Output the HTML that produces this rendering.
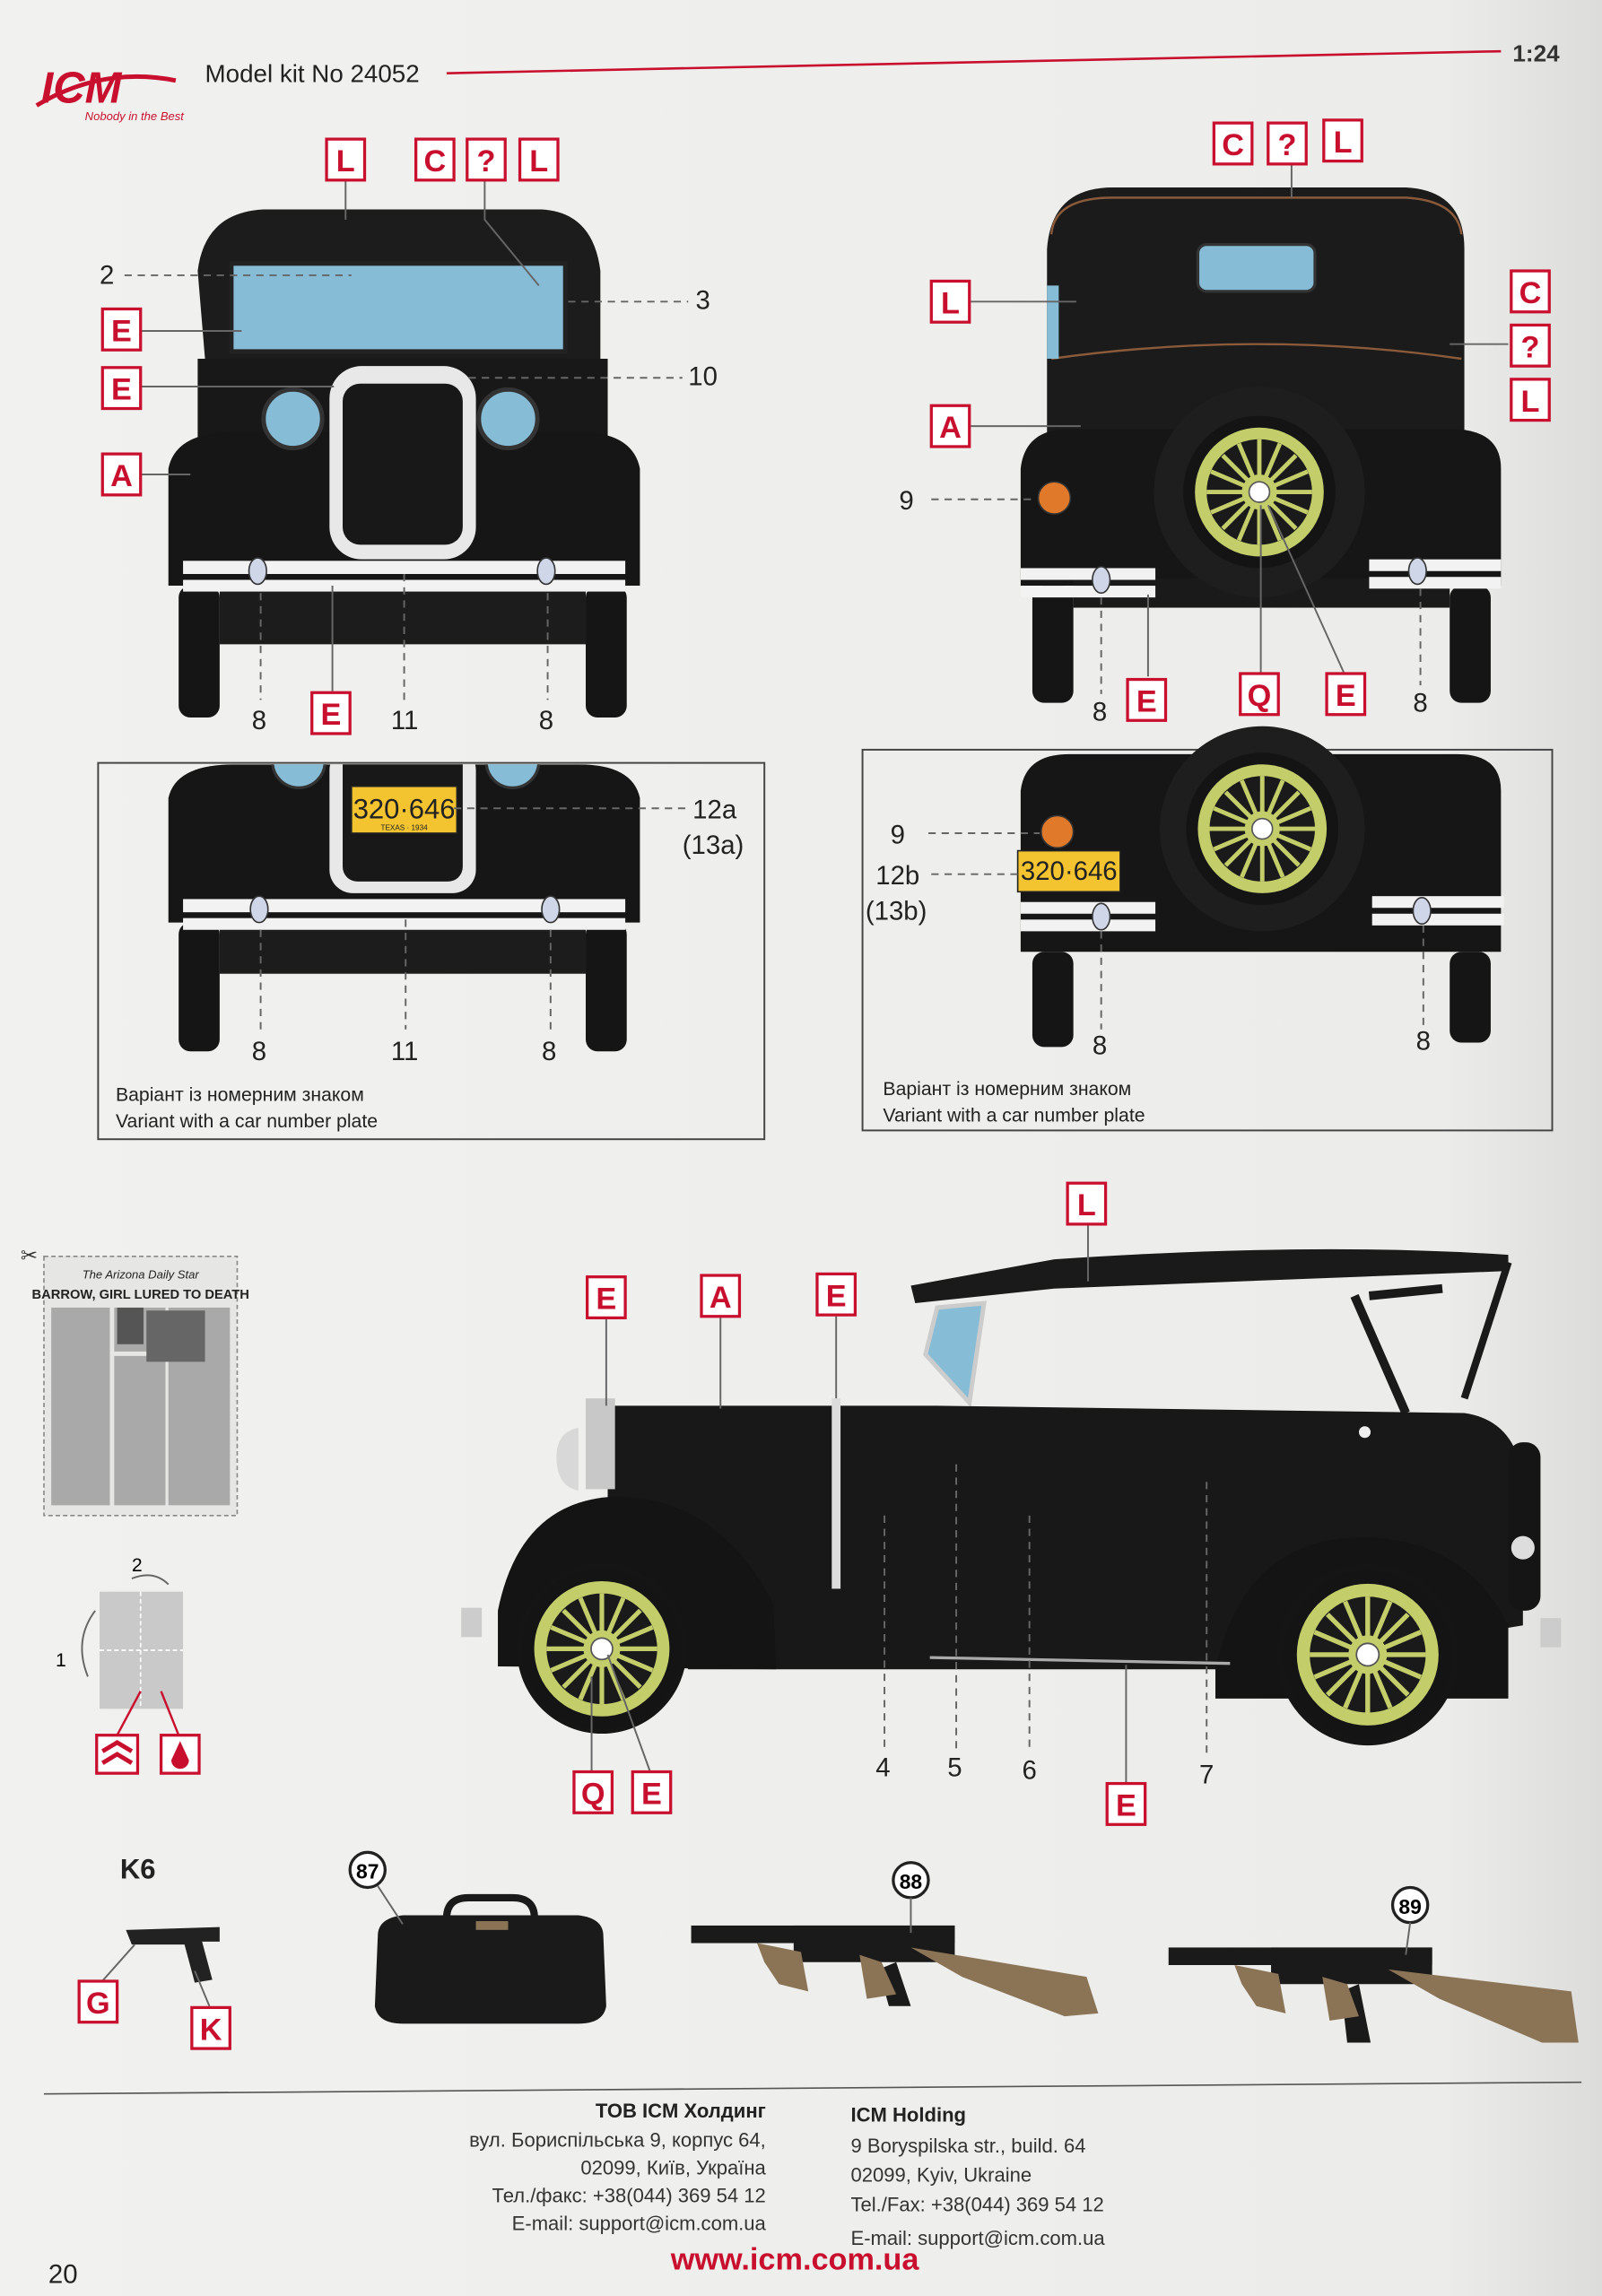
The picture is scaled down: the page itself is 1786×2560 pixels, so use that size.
<!DOCTYPE html>
<html><head><meta charset="utf-8"><style>
html,body{margin:0;padding:0;background:#efefed}
svg{display:block}
text{font-family:"Liberation Sans","DejaVu Sans",sans-serif}
.lb rect{fill:#fff;stroke:#c8102e;stroke-width:2}
.lb text{fill:#c8102e;font-weight:bold;font-size:21px;text-anchor:middle}
.n{font-size:18px;fill:#222}
.d{stroke:#666;stroke-width:1.2;stroke-dasharray:5 4;fill:none}
.s{stroke:#666;stroke-width:1.2;fill:none}
.red{stroke:#c8102e;stroke-width:1.5;fill:none}
</style></head><body>
<svg width="1786" height="2560" viewBox="0 0 1094 1568" preserveAspectRatio="none" xmlns="http://www.w3.org/2000/svg">
<defs>
<linearGradient id="bg" x1="0" x2="1"><stop offset="0" stop-color="#f1f1ef"/><stop offset="0.9" stop-color="#ececea"/><stop offset="1" stop-color="#dcdcda"/></linearGradient>
<clipPath id="b1"><rect x="67" y="522" width="455" height="256"/></clipPath>
<g id="wheel"><circle r="52" fill="#141414"/><circle r="44" fill="#c3cd6a"/><circle r="36" fill="#1a1a1a"/><g stroke="#c3cd6a" stroke-width="3"><line x1="-36" y1="0" x2="36" y2="0"/><line x1="0" y1="-36" x2="0" y2="36"/><line x1="-25" y1="-25" x2="25" y2="25"/><line x1="-25" y1="25" x2="25" y2="-25"/><line x1="-33" y1="-14" x2="33" y2="14"/><line x1="-14" y1="-33" x2="14" y2="33"/><line x1="-33" y1="14" x2="33" y2="-14"/><line x1="-14" y1="33" x2="14" y2="-33"/></g><circle r="12" fill="#c3cd6a"/><circle r="7" fill="#fff" stroke="#555"/></g>
</defs>
<rect width="1094" height="1568" fill="url(#bg)"/>

<!-- header -->
<text x="28" y="70" font-size="30" font-weight="bold" fill="#c8102e" font-style="italic">ICM</text>
<path d="M25 72 Q70 45 120 55" stroke="#c8102e" stroke-width="3" fill="none"/>
<text x="58" y="82" font-size="8" fill="#c8102e" font-style="italic">Nobody in the Best</text>
<text x="140" y="56" font-size="17" fill="#222">Model kit No 24052</text>
<line x1="305" y1="50" x2="1025" y2="35" stroke="#c8102e" stroke-width="1.6"/>
<text x="1033" y="42" font-size="16" font-weight="bold" fill="#333">1:24</text>

<!-- FRONT VIEW -->
<g>
<path d="M135 185 Q140 145 180 143 L370 143 Q405 145 410 185 L410 245 L140 245 Z" fill="#1c1c1c"/>
<rect x="158" y="180" width="228" height="60" fill="#86bcd6" stroke="#222" stroke-width="3"/>
<rect x="135" y="245" width="280" height="70" fill="#181818"/>
<path d="M115 320 Q120 295 160 295 L395 295 Q432 295 437 320 L437 400 L115 400 Z" fill="#161616"/>
<rect x="122" y="400" width="28" height="90" rx="8" fill="#151515"/>
<rect x="400" y="400" width="28" height="90" rx="8" fill="#151515"/>
<rect x="150" y="400" width="250" height="40" fill="#1c1c1c"/>
<rect x="225" y="250" width="100" height="132" rx="22" fill="#e8e8e8"/>
<rect x="234" y="262" width="82" height="110" rx="12" fill="#181818"/>
<circle cx="200" cy="286" r="20" fill="#86bcd6" stroke="#333" stroke-width="3"/>
<circle cx="347" cy="286" r="20" fill="#86bcd6" stroke="#333" stroke-width="3"/>
<rect x="125" y="383" width="302" height="9" fill="#f2f2f2"/>
<rect x="125" y="396" width="302" height="8" fill="#f2f2f2"/>
<ellipse cx="176" cy="390" rx="6" ry="9" fill="#cfd6e8" stroke="#333"/>
<ellipse cx="373" cy="390" rx="6" ry="9" fill="#cfd6e8" stroke="#333"/>
</g>
<path class="d" d="M85 188 L240 188 M388 206 L470 206 M320 258 L466 258 M178 405 L178 478 M276 392 L276 478 M374 405 L374 478"/>
<path class="s" d="M236 123 L236 150 M331 123 L331 150 L368 195 M96 226 L165 226 M96 264 L228 264 M96 324 L130 324 M227 472 L227 400"/>
<text class="n" x="68" y="194">2</text><text class="n" x="475" y="211">3</text><text class="n" x="470" y="263">10</text>
<text class="n" x="172" y="498">8</text><text class="n" x="267" y="498">11</text><text class="n" x="368" y="498">8</text>

<!-- REAR VIEW -->
<g>
<path d="M715 170 Q718 128 760 128 L960 128 Q1000 130 1000 170 L1000 300 L715 300 Z" fill="#1b1b1b"/>
<path d="M718 160 Q720 135 760 135 L960 135 Q995 137 998 160" stroke="#8a5a3a" fill="none" stroke-width="1.5"/>
<path d="M718 245 Q860 225 998 245" stroke="#8a5a3a" fill="none" stroke-width="1.5"/>
<rect x="818" y="167" width="80" height="32" rx="6" fill="#86bcd6" stroke="#333" stroke-width="2"/>
<rect x="715" y="195" width="8" height="50" fill="#86bcd6"/>
<path d="M697 320 Q700 293 730 293 L995 293 Q1025 295 1025 320 L1025 400 L697 400 Z" fill="#161616"/>
<rect x="705" y="400" width="28" height="80" rx="8" fill="#151515"/>
<rect x="990" y="400" width="28" height="80" rx="8" fill="#151515"/>
<rect x="733" y="395" width="257" height="20" fill="#1a1a1a"/>
<circle cx="860" cy="336" r="72" fill="#1e1e1e"/>
<use href="#wheel" transform="translate(860,336)"/>
<circle cx="720" cy="340" r="11" fill="#e07a2a" stroke="#333"/>
<rect x="697" y="388" width="92" height="8" fill="#f2f2f2"/><rect x="697" y="400" width="92" height="8" fill="#f2f2f2"/>
<rect x="935" y="382" width="90" height="8" fill="#f2f2f2"/><rect x="935" y="394" width="90" height="8" fill="#f2f2f2"/>
<ellipse cx="752" cy="396" rx="6" ry="9" fill="#cfd6e8" stroke="#333"/>
<ellipse cx="968" cy="390" rx="6" ry="9" fill="#cfd6e8" stroke="#333"/>
</g>
<path class="d" d="M636 341 L708 341 M752 408 L752 474 M970 402 L970 468"/>
<path class="s" d="M882 111 L882 135 M663 206 L735 206 M663 291 L738 291 M1030 235 L990 235 M784 462 L784 406 M861 460 L861 345 M918 460 L866 345"/>
<text class="n" x="614" y="348">9</text><text class="n" x="746" y="492">8</text><text class="n" x="965" y="486">8</text>

<!-- variant box 1 -->
<rect x="67" y="521" width="455" height="257" fill="none" stroke="#444" stroke-width="1.2"/>
<g clip-path="url(#b1)">
<path d="M115 545 Q120 522 160 522 L395 522 Q432 522 437 545 L437 630 L115 630 Z" fill="#161616"/>
<circle cx="204" cy="520" r="18" fill="#86bcd6" stroke="#333" stroke-width="2"/><circle cx="350" cy="520" r="18" fill="#86bcd6" stroke="#333" stroke-width="2"/>
<rect x="225" y="510" width="100" height="100" rx="16" fill="#e8e8e8"/>
<rect x="234" y="510" width="82" height="92" rx="10" fill="#181818"/>
<rect x="240" y="537" width="72" height="32" fill="#f4c430" stroke="#222"/>
<text x="276" y="559" font-size="19" text-anchor="middle" fill="#222">320·646</text>
<text x="276" y="567" font-size="5" text-anchor="middle" fill="#222">TEXAS · 1934</text>
<rect x="122" y="630" width="28" height="88" rx="8" fill="#151515"/><rect x="400" y="630" width="28" height="88" rx="8" fill="#151515"/>
<rect x="150" y="630" width="250" height="35" fill="#1c1c1c"/>
<rect x="125" y="614" width="302" height="9" fill="#f2f2f2"/><rect x="125" y="627" width="302" height="8" fill="#f2f2f2"/>
<ellipse cx="177" cy="621" rx="6" ry="9" fill="#cfd6e8" stroke="#333"/><ellipse cx="376" cy="621" rx="6" ry="9" fill="#cfd6e8" stroke="#333"/>
</g>
<path class="d" d="M310 552 L468 552 M178 635 L178 703 M277 628 L277 703 M376 635 L376 703"/>
<text class="n" x="473" y="559">12a</text><text class="n" x="466" y="583">(13a)</text>
<text class="n" x="172" y="724">8</text><text class="n" x="267" y="724">11</text><text class="n" x="370" y="724">8</text>
<text x="79" y="752" font-size="13" fill="#222">Варіант із номерним знаком</text>
<text x="79" y="770" font-size="13" fill="#222">Variant with a car number plate</text>

<!-- variant box 2 -->
<rect x="589" y="512" width="471" height="260" fill="none" stroke="#444" stroke-width="1.2"/>
<g>
<path d="M697 540 Q700 515 730 515 L995 515 Q1025 515 1025 540 L1025 650 L697 650 Z" fill="#161616"/>
<circle cx="862" cy="566" r="70" fill="#1e1e1e"/>
<use href="#wheel" transform="translate(862,566)"/>
<circle cx="722" cy="568" r="11" fill="#e07a2a" stroke="#333"/>
<rect x="695" y="581" width="70" height="28" fill="#f4c430" stroke="#222"/>
<text x="730" y="601" font-size="18" text-anchor="middle" fill="#222">320·646</text>
<rect x="705" y="650" width="28" height="65" rx="8" fill="#151515"/><rect x="990" y="650" width="28" height="62" rx="8" fill="#151515"/>
<rect x="697" y="616" width="92" height="8" fill="#f2f2f2"/><rect x="697" y="628" width="92" height="8" fill="#f2f2f2"/>
<rect x="937" y="612" width="90" height="8" fill="#f2f2f2"/><rect x="937" y="624" width="90" height="8" fill="#f2f2f2"/>
<ellipse cx="752" cy="626" rx="6" ry="9" fill="#cfd6e8" stroke="#333"/><ellipse cx="971" cy="622" rx="6" ry="9" fill="#cfd6e8" stroke="#333"/>
</g>
<path class="d" d="M634 569 L710 569 M636 597 L695 597 M752 636 L752 703 M972 632 L972 700"/>
<text class="n" x="608" y="576">9</text><text class="n" x="598" y="604">12b</text><text class="n" x="591" y="628">(13b)</text>
<text class="n" x="746" y="720">8</text><text class="n" x="967" y="717">8</text>
<text x="603" y="748" font-size="13" fill="#222">Варіант із номерним знаком</text>
<text x="603" y="766" font-size="13" fill="#222">Variant with a car number plate</text>

<!-- SIDE VIEW -->
<g>
<path d="M622 878 L625 890 L720 880 L1030 868 L1030 857 Q900 848 720 860 Z" fill="#1a1a1a"/>
<path d="M925 885 L960 965 M935 885 L985 880" stroke="#1a1a1a" stroke-width="6"/>
<path d="M1030 862 L1000 955" stroke="#1a1a1a" stroke-width="5"/>
<path d="M632 925 L640 893 L672 890 L662 958 Z" fill="#86bcd6" stroke="#ccc" stroke-width="3"/>
<path d="M415 960 L640 960 L1000 965 Q1035 970 1040 1010 L1040 1110 L860 1140 L470 1140 L415 1050 Z" fill="#181818"/>
<path d="M340 1100 Q355 1025 420 1022 Q490 1022 528 1095 L530 1140 L340 1138 Z" fill="#141414"/>
<path d="M830 1140 Q850 1050 930 1050 Q1000 1050 1030 1110 L1030 1160 L830 1160 Z" fill="#141414"/>
<rect x="1030" y="985" width="22" height="115" rx="10" fill="#151515"/>
<path d="M395 975 Q380 978 380 995 Q380 1015 395 1018 Z" fill="#d8d8d8"/>
<rect x="400" y="955" width="20" height="62" fill="#c8c8c8"/>
<rect x="568" y="955" width="6" height="130" fill="#dcdcdc"/>
<line x1="635" y1="1132" x2="840" y2="1136" stroke="#aaa" stroke-width="2"/>
<circle cx="411" cy="1126" r="58" fill="#151515"/>
<use href="#wheel" transform="translate(411,1126) scale(1.05)"/>
<circle cx="934" cy="1130" r="62" fill="#151515"/>
<use href="#wheel" transform="translate(934,1130) scale(1.1)"/>
<rect x="315" y="1098" width="14" height="20" fill="#ccc"/>
<rect x="1052" y="1105" width="14" height="20" fill="#ccc"/>
<circle cx="932" cy="978" r="4" fill="#eee"/>
<circle cx="1040" cy="1057" r="8" fill="#ddd"/>
</g>
<path class="d" d="M604 1035 L604 1195 M653 1000 L653 1195 M703 1035 L703 1195 M824 1012 L824 1200"/>
<path class="s" d="M743 836 L743 875 M414 900 L414 960 M492 900 L492 962 M571 899 L571 955 M404 1210 L404 1145 M444 1210 L415 1130 M769 1218 L769 1137"/>
<text class="n" x="598" y="1213">4</text><text class="n" x="647" y="1213">5</text><text class="n" x="698" y="1215">6</text><text class="n" x="819" y="1218">7</text>

<!-- newspaper -->
<text x="14" y="862" font-size="14" fill="#333">✂</text>
<rect x="30" y="858" width="132" height="177" fill="#e6e6e4" stroke="#888" stroke-dasharray="3 2"/>
<text x="96" y="873" font-size="8" text-anchor="middle" fill="#222" font-style="italic">The Arizona Daily Star</text>
<text x="96" y="887" font-size="9" text-anchor="middle" font-weight="bold" fill="#222">BARROW, GIRL LURED TO DEATH</text>
<g fill="#a9a9a9"><rect x="35" y="893" width="40" height="135"/><rect x="78" y="893" width="35" height="30"/><rect x="115" y="893" width="42" height="135"/><rect x="78" y="926" width="35" height="102"/></g>
<rect x="80" y="893" width="18" height="25" fill="#555"/><rect x="100" y="895" width="40" height="35" fill="#666"/>

<!-- fold -->
<rect x="68" y="1087" width="57" height="80" fill="#c9c9c9"/>
<line x1="96" y1="1087" x2="96" y2="1167" stroke="#fff" stroke-dasharray="3 2"/>
<line x1="68" y1="1127" x2="125" y2="1127" stroke="#fff" stroke-dasharray="3 2"/>
<path d="M90 1078 Q105 1072 115 1082" class="s"/><text x="90" y="1073" font-size="13">2</text>
<path d="M60 1145 Q50 1120 65 1100" class="s"/><text x="38" y="1138" font-size="13">1</text>
<path class="red" d="M80 1185 L96 1155 M122 1185 L110 1155"/>
<rect x="66" y="1185" width="28" height="26" fill="#fff" stroke="#c8102e" stroke-width="2"/>
<path d="M70 1196 L80 1190 L90 1196 M70 1204 L80 1198 L90 1204" stroke="#c8102e" stroke-width="3" fill="none"/>
<rect x="110" y="1185" width="26" height="26" fill="#fff" stroke="#c8102e" stroke-width="2"/>
<path d="M123 1189 L129 1202 A6 6 0 1 1 117 1202 Z" fill="#c8102e"/>

<!-- weapons -->
<text x="82" y="1283" font-size="19" font-weight="bold" fill="#222">K6</text>
<path d="M86 1318 L150 1316 L150 1326 L138 1326 L145 1352 L133 1354 L126 1328 L90 1328 Z" fill="#222"/>
<path class="s" d="M68 1355 L92 1328 M143 1370 L133 1346"/>
<path d="M258 1322 Q258 1310 275 1308 L395 1308 Q412 1310 412 1322 L414 1370 Q412 1382 395 1382 L275 1382 Q258 1382 256 1370 Z" fill="#1a1a1a"/>
<path d="M305 1310 Q305 1296 320 1296 L350 1296 Q365 1296 365 1310" stroke="#1a1a1a" stroke-width="5" fill="none"/>
<rect x="325" y="1312" width="22" height="6" fill="#8b7355"/>
<circle cx="251" cy="1277" r="12" fill="#fff" stroke="#222" stroke-width="2"/><text x="251" y="1283" font-size="14" font-weight="bold" text-anchor="middle">87</text>
<line class="s" x1="258" y1="1288" x2="275" y2="1314"/>
<g transform="translate(472,1315)"><rect x="0" y="0" width="180" height="12" fill="#1a1a1a"/><rect x="70" y="0" width="110" height="25" fill="#1a1a1a"/><path d="M45 12 L75 18 L80 45 L60 40 L50 25 Z" fill="#8b7355"/><path d="M140 25 L150 55 L135 55 L128 30 Z" fill="#1a1a1a"/><path d="M150 15 L270 35 L278 60 L255 62 L185 35 Z" fill="#8b7355"/><path d="M115 20 L120 50 L140 47 L130 25 Z" fill="#8b7355"/></g>
<circle cx="622" cy="1284" r="12" fill="#fff" stroke="#222" stroke-width="2"/><text x="622" y="1290" font-size="14" font-weight="bold" text-anchor="middle">88</text>
<line class="s" x1="622" y1="1296" x2="622" y2="1320"/>
<g transform="translate(798,1330)"><rect x="0" y="0" width="180" height="12" fill="#1a1a1a"/><rect x="70" y="0" width="110" height="25" fill="#1a1a1a"/><path d="M45 12 L75 18 L80 45 L60 40 L50 25 Z" fill="#8b7355"/><path d="M130 25 L138 65 L122 65 L118 30 Z" fill="#1a1a1a"/><path d="M150 15 L275 30 L280 65 L255 65 L185 35 Z" fill="#8b7355"/><path d="M105 20 L110 50 L130 47 L122 25 Z" fill="#8b7355"/></g>
<circle cx="963" cy="1301" r="12" fill="#fff" stroke="#222" stroke-width="2"/><text x="963" y="1307" font-size="14" font-weight="bold" text-anchor="middle">89</text>
<line class="s" x1="963" y1="1313" x2="960" y2="1335"/>

<!-- labels -->
<g class="lb">
<g transform="translate(223,95)"><rect width="26" height="28"/><text x="13" y="22">L</text></g>
<g transform="translate(284,95)"><rect width="26" height="28"/><text x="13" y="22">C</text></g>
<g transform="translate(319,95)"><rect width="26" height="28"/><text x="13" y="22">?</text></g>
<g transform="translate(355,95)"><rect width="26" height="28"/><text x="13" y="22">L</text></g>
<g transform="translate(70,211)"><rect width="26" height="28"/><text x="13" y="22">E</text></g>
<g transform="translate(70,251)"><rect width="26" height="28"/><text x="13" y="22">E</text></g>
<g transform="translate(70,310)"><rect width="26" height="28"/><text x="13" y="22">A</text></g>
<g transform="translate(213,473)"><rect width="26" height="28"/><text x="13" y="22">E</text></g>
<g transform="translate(829,84)"><rect width="26" height="28"/><text x="13" y="22">C</text></g>
<g transform="translate(866,84)"><rect width="26" height="28"/><text x="13" y="22">?</text></g>
<g transform="translate(904,82)"><rect width="26" height="28"/><text x="13" y="22">L</text></g>
<g transform="translate(636,192)"><rect width="26" height="28"/><text x="13" y="22">L</text></g>
<g transform="translate(636,277)"><rect width="26" height="28"/><text x="13" y="22">A</text></g>
<g transform="translate(1032,185)"><rect width="26" height="28"/><text x="13" y="22">C</text></g>
<g transform="translate(1032,222)"><rect width="26" height="28"/><text x="13" y="22">?</text></g>
<g transform="translate(1032,259)"><rect width="26" height="28"/><text x="13" y="22">L</text></g>
<g transform="translate(770,464)"><rect width="26" height="28"/><text x="13" y="22">E</text></g>
<g transform="translate(847,460)"><rect width="26" height="28"/><text x="13" y="22">Q</text></g>
<g transform="translate(906,460)"><rect width="26" height="28"/><text x="13" y="22">E</text></g>
<g transform="translate(729,808)"><rect width="26" height="28"/><text x="13" y="22">L</text></g>
<g transform="translate(401,872)"><rect width="26" height="28"/><text x="13" y="22">E</text></g>
<g transform="translate(479,871)"><rect width="26" height="28"/><text x="13" y="22">A</text></g>
<g transform="translate(558,870)"><rect width="26" height="28"/><text x="13" y="22">E</text></g>
<g transform="translate(392,1210)"><rect width="26" height="28"/><text x="13" y="22">Q</text></g>
<g transform="translate(432,1210)"><rect width="26" height="28"/><text x="13" y="22">E</text></g>
<g transform="translate(756,1218)"><rect width="26" height="28"/><text x="13" y="22">E</text></g>
<g transform="translate(54,1353)"><rect width="26" height="28"/><text x="13" y="22">G</text></g>
<g transform="translate(131,1371)"><rect width="26" height="28"/><text x="13" y="22">K</text></g>
</g>

<!-- footer -->
<line x1="30" y1="1430" x2="1080" y2="1422" stroke="#555" stroke-width="1"/>
<g font-size="13.5" fill="#333" text-anchor="end">
<text x="523" y="1446" font-weight="bold" fill="#222">ТОВ ICM Холдинг</text>
<text x="523" y="1466">вул. Бориспільська 9, корпус 64,</text>
<text x="523" y="1485">02099, Київ, Україна</text>
<text x="523" y="1504">Тел./факс: +38(044) 369 54 12</text>
<text x="523" y="1523">E-mail: support@icm.com.ua</text>
</g>
<g font-size="13.5" fill="#333">
<text x="581" y="1449" font-weight="bold" fill="#222">ICM Holding</text>
<text x="581" y="1470">9 Boryspilska str., build. 64</text>
<text x="581" y="1490">02099, Kyiv, Ukraine</text>
<text x="581" y="1510">Tel./Fax: +38(044) 369 54 12</text>
<text x="581" y="1533">E-mail: support@icm.com.ua</text>
</g>
<text x="458" y="1550" font-size="21" font-weight="bold" fill="#c8102e">www.icm.com.ua</text>
<text x="33" y="1559" font-size="18" fill="#222">20</text>
</svg>
</body></html>
